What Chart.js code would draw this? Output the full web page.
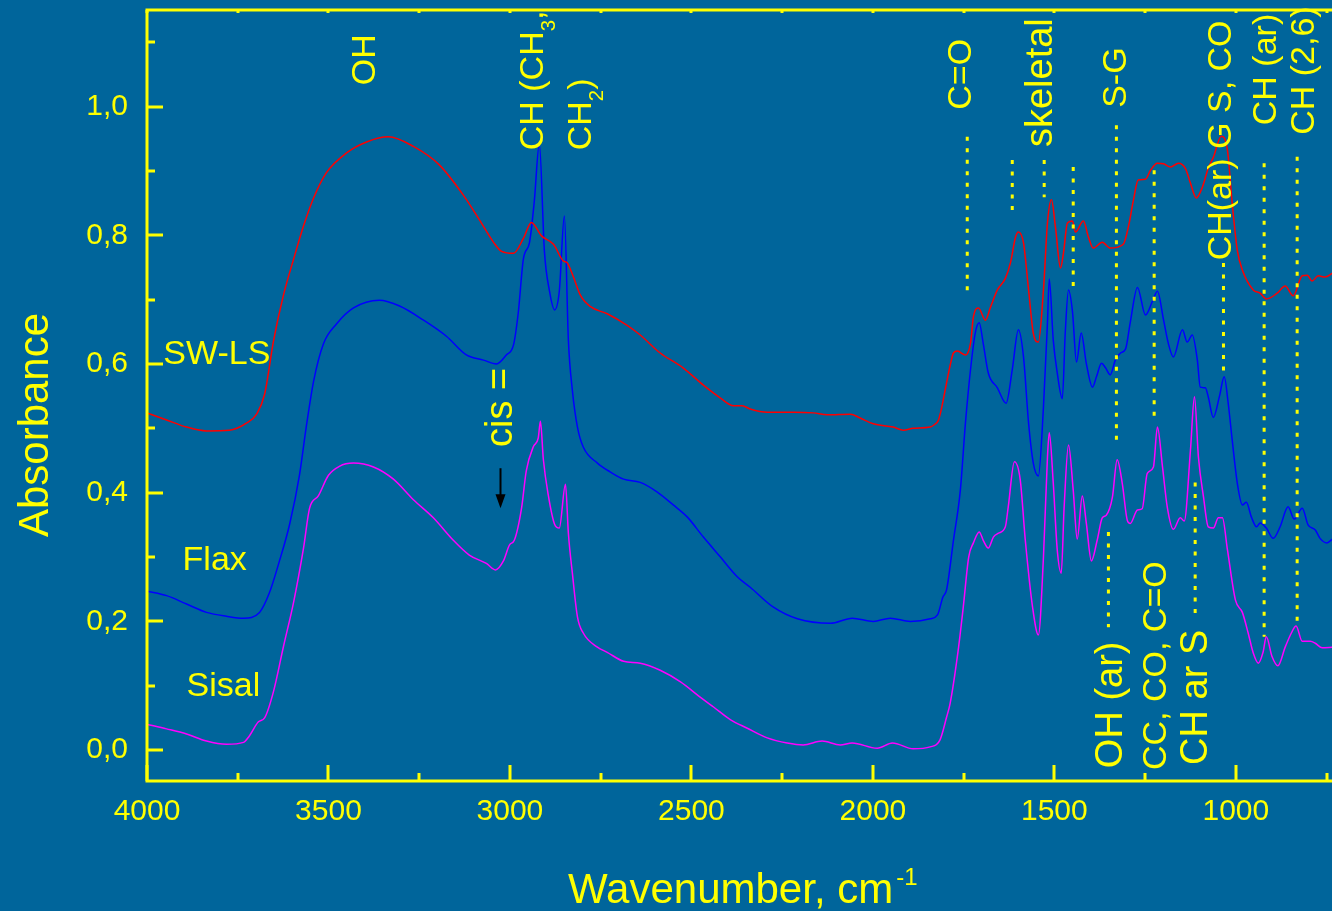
<!DOCTYPE html>
<html lang="en">
<head>
<meta charset="UTF-8">
<title>FTIR spectra: SW-LS, Flax, Sisal</title>
<script src="https://cdn.jsdelivr.net/npm/chart.js"></script>
<style>
    html, body {
        margin: 0;
        padding: 0;
        background: #00659b;
    }
    #wrap {
        width: 1332px;
        height: 911px;
    }
</style>
</head>
<body>
<div id="wrap"><canvas id="ftir"></canvas></div>
<script>
// spectra: [wavenumber cm-1, absorbance]
const swls = [
    [4000,0.524],[3946,0.513],[3891,0.502],[3836,0.496],[3773,0.497],[3726,0.508],[3698,0.522],[3676,0.553],
    [3651,0.637],[3624,0.707],[3596,0.763],[3569,0.814],[3541,0.858],[3506,0.897],[3450,0.928],[3395,0.945],
    [3335,0.953],[3266,0.938],[3194,0.909],[3128,0.862],[3084,0.824],[3045,0.789],[3023,0.775],[2990,0.772],
    [2963,0.795],[2941,0.820],[2913,0.799],[2880,0.786],[2853,0.760],[2842,0.757],[2825,0.735],[2806,0.707],
    [2778,0.689],[2732,0.678],[2677,0.660],[2641,0.645],[2586,0.617],[2523,0.594],[2467,0.567],[2420,0.547],
    [2384,0.535],[2360,0.535],[2338,0.530],[2291,0.525],[2219,0.525],[2164,0.524],[2126,0.521],[2062,0.522],
    [2035,0.516],[1999,0.507],[1944,0.502],[1916,0.497],[1889,0.500],[1842,0.502],[1830,0.506],[1820,0.512],
    [1812,0.528],[1801,0.559],[1787,0.598],[1778,0.617],[1767,0.620],[1745,0.614],[1731,0.632],[1723,0.673],
    [1709,0.687],[1690,0.668],[1676,0.688],[1657,0.715],[1635,0.733],[1621,0.757],[1607,0.797],[1599,0.805],
    [1585,0.788],[1571,0.715],[1558,0.648],[1544,0.634],[1530,0.715],[1519,0.819],[1508,0.855],[1497,0.813],
    [1483,0.749],[1475,0.772],[1464,0.819],[1450,0.822],[1442,0.805],[1420,0.822],[1406,0.797],[1393,0.780],
    [1368,0.789],[1346,0.780],[1310,0.786],[1296,0.813],[1282,0.855],[1269,0.886],[1249,0.887],[1235,0.901],
    [1216,0.912],[1199,0.911],[1180,0.906],[1158,0.912],[1139,0.904],[1125,0.881],[1109,0.858],[1092,0.875],
    [1076,0.904],[1062,0.921],[1040,0.954],[1023,0.932],[1010,0.850],[996,0.777],[982,0.746],[952,0.715],
    [933,0.710],[916,0.701],[886,0.710],[864,0.721],[842,0.706],[817,0.737],[803,0.738],[790,0.729],
    [773,0.737],[754,0.735],[734,0.741]
];

const flax = [
    [4000,0.247],[3946,0.240],[3891,0.227],[3836,0.214],[3781,0.208],[3734,0.205],[3690,0.214],[3663,0.244],
    [3635,0.294],[3607,0.351],[3580,0.427],[3561,0.503],[3541,0.573],[3514,0.631],[3478,0.662],[3431,0.687],
    [3360,0.699],[3304,0.690],[3238,0.668],[3175,0.643],[3120,0.614],[3073,0.606],[3037,0.600],[3010,0.614],
    [2990,0.630],[2977,0.680],[2963,0.763],[2946,0.789],[2933,0.852],[2919,0.942],[2905,0.775],[2891,0.713],
    [2877,0.684],[2864,0.713],[2850,0.830],[2839,0.637],[2828,0.559],[2814,0.502],[2798,0.471],[2759,0.446],
    [2723,0.432],[2687,0.421],[2641,0.416],[2594,0.401],[2550,0.381],[2511,0.362],[2467,0.331],[2420,0.300],
    [2373,0.269],[2338,0.253],[2274,0.222],[2208,0.204],[2117,0.197],[2057,0.205],[1999,0.200],[1952,0.205],
    [1897,0.200],[1842,0.204],[1822,0.210],[1807,0.238],[1797,0.249],[1778,0.326],[1759,0.404],[1745,0.508],
    [1731,0.591],[1718,0.648],[1707,0.664],[1696,0.632],[1682,0.586],[1657,0.563],[1633,0.539],[1616,0.591],
    [1599,0.653],[1585,0.611],[1571,0.508],[1558,0.446],[1544,0.426],[1530,0.533],[1519,0.664],[1514,0.732],
    [1503,0.637],[1492,0.586],[1478,0.546],[1470,0.648],[1461,0.715],[1450,0.681],[1439,0.603],[1426,0.648],
    [1412,0.601],[1395,0.564],[1384,0.580],[1370,0.601],[1359,0.594],[1346,0.583],[1332,0.606],[1318,0.617],
    [1304,0.623],[1291,0.664],[1271,0.719],[1249,0.676],[1230,0.697],[1216,0.713],[1199,0.668],[1186,0.632],
    [1172,0.611],[1147,0.653],[1134,0.634],[1120,0.645],[1106,0.606],[1098,0.564],[1084,0.563],[1076,0.549],
    [1062,0.517],[1045,0.550],[1032,0.580],[1021,0.539],[1010,0.482],[996,0.415],[982,0.381],[971,0.385],
    [957,0.362],[943,0.347],[933,0.353],[916,0.345],[897,0.329],[878,0.347],[856,0.378],[839,0.359],
    [817,0.376],[801,0.350],[781,0.342],[768,0.329],[749,0.322],[734,0.328]
];

const sisal = [
    [4000,0.040],[3946,0.033],[3891,0.025],[3836,0.014],[3781,0.009],[3734,0.012],[3718,0.022],[3693,0.044],
    [3676,0.050],[3651,0.092],[3624,0.161],[3596,0.230],[3569,0.313],[3552,0.376],[3528,0.395],[3500,0.427],
    [3470,0.441],[3431,0.446],[3376,0.440],[3321,0.421],[3266,0.389],[3211,0.361],[3156,0.326],[3112,0.303],
    [3065,0.290],[3040,0.280],[3018,0.294],[3001,0.319],[2988,0.326],[2968,0.376],[2955,0.434],[2935,0.472],
    [2922,0.485],[2916,0.511],[2908,0.452],[2894,0.395],[2877,0.351],[2864,0.345],[2847,0.413],[2839,0.337],
    [2828,0.275],[2814,0.207],[2798,0.182],[2759,0.160],[2732,0.152],[2687,0.138],[2641,0.135],[2586,0.124],
    [2530,0.106],[2475,0.082],[2439,0.067],[2392,0.047],[2346,0.034],[2291,0.019],[2236,0.011],[2192,0.008],
    [2140,0.014],[2090,0.008],[2057,0.011],[1988,0.003],[1946,0.011],[1889,0.002],[1842,0.005],[1815,0.016],
    [1797,0.051],[1787,0.073],[1765,0.155],[1751,0.222],[1736,0.300],[1723,0.322],[1707,0.339],[1696,0.326],
    [1682,0.314],[1668,0.331],[1654,0.337],[1635,0.347],[1627,0.378],[1610,0.448],[1594,0.420],[1580,0.326],
    [1560,0.222],[1544,0.179],[1530,0.300],[1519,0.455],[1514,0.493],[1503,0.415],[1492,0.311],[1481,0.275],
    [1473,0.378],[1461,0.474],[1448,0.404],[1437,0.328],[1423,0.395],[1412,0.353],[1398,0.294],[1382,0.326],
    [1368,0.361],[1357,0.365],[1340,0.393],[1327,0.451],[1313,0.415],[1299,0.357],[1291,0.352],[1271,0.373],
    [1258,0.375],[1244,0.430],[1227,0.440],[1216,0.502],[1202,0.440],[1189,0.378],[1172,0.343],[1153,0.361],
    [1142,0.356],[1125,0.466],[1114,0.549],[1103,0.455],[1089,0.393],[1076,0.347],[1062,0.345],[1048,0.361],
    [1037,0.361],[1023,0.311],[1001,0.233],[982,0.214],[966,0.182],[952,0.151],[938,0.135],[925,0.152],
    [916,0.176],[900,0.145],[884,0.131],[864,0.160],[847,0.182],[834,0.193],[817,0.169],[795,0.169],
    [781,0.166],[762,0.159],[734,0.160]
];

const xTickValues = [4000, 3500, 3000, 2500, 2000, 1500, 1000];
const yTickValues = [0, 0.2, 0.4, 0.6, 0.8, 1.0];

// dotted band markers: [wavenumber, absorbance from, absorbance to]
const bandLines = [
    [1740, 0.953, 0.710], [1616, 0.917, 0.839], [1528, 0.917, 0.859], [1448, 0.906, 0.720],
    [1329, 0.971, 0.477], [1225, 0.901, 0.513], [1034, 0.757, 0.586], [922, 0.912, 0.176],
    [831, 0.922, 0.191], [1351, 0.339, 0.191], [1112, 0.416, 0.213]
];

// band names, rotated; an inner array is a subscript
const bandNames = [
    { parts: ['OH'], wn: 3406, abs: 1.033, size: 34 },
    { parts: ['CH (CH', ['3'], ','], wn: 2944, abs: 0.932, size: 34 },
    { parts: ['CH', ['2'], ')'], wn: 2811, abs: 0.932, size: 34 },
    { parts: ['cis ='], wn: 3032, abs: 0.471, size: 38 },
    { parts: ['C=O'], wn: 1764, abs: 0.995, size: 34 },
    { parts: ['skeletal'], wn: 1544, abs: 0.937, size: 38 },
    { parts: ['S-G'], wn: 1337, abs: 0.998, size: 34 },
    { parts: ['CH(ar) G S, CO'], wn: 1048, abs: 0.761, size: 34 },
    { parts: ['CH (ar)'], wn: 924, abs: 0.971, size: 34 },
    { parts: ['CH (2,6)'], wn: 817, abs: 0.956, size: 34 },
    { parts: ['OH (ar)'], wn: 1351, abs: -0.028, size: 38 },
    { parts: ['CC, CO, C=O'], wn: 1227, abs: -0.031, size: 34 },
    { parts: ['CH ar S'], wn: 1117, abs: -0.023, size: 38 }
];

const sampleNames = [
    { text: 'SW-LS', wn: 3955, abs: 0.614 },
    { text: 'Flax', wn: 3902, abs: 0.295 },
    { text: 'Sisal', wn: 3891, abs: 0.099 }
];

const YELLOW = '#ffff00';
const FONT = '"Liberation Sans", Arial, sans-serif';

function toPoints(rows) {
    return rows.map(r => ({ x: r[0], y: r[1] }));
}

function drawParts(ctx, parts, size) {
    let x = 0;
    parts.forEach(p => {
        if (Array.isArray(p)) {
            ctx.font = (size * 0.6) + 'px ' + FONT;
            ctx.fillText(p[0], x, size * 0.36);
            x += ctx.measureText(p[0]).width;
        } else {
            ctx.font = size + 'px ' + FONT;
            ctx.fillText(p, x, 0);
            x += ctx.measureText(p).width;
        }
    });
}

const decorations = {
    id: 'decorations',
    afterDatasetsDraw(chart) {
        const { ctx, chartArea: a } = chart;
        const xs = chart.scales.x, ys = chart.scales.y;
        ctx.save();

        // frame
        ctx.strokeStyle = YELLOW;
        ctx.lineWidth = 3;
        ctx.beginPath();
        ctx.moveTo(a.right, a.top);
        ctx.lineTo(a.left, a.top);
        ctx.lineTo(a.left, a.bottom);
        ctx.lineTo(a.right, a.bottom);
        ctx.stroke();

        // inward ticks
        ctx.beginPath();
        for (let w = 4000; w >= xs.min; w -= 250) {
            const px = Math.round(xs.getPixelForValue(w));
            const len = w % 500 === 0 ? 16 : 8;
            ctx.moveTo(px, a.bottom);
            ctx.lineTo(px, a.bottom - len);
            ctx.moveTo(px, a.top);
            ctx.lineTo(px, a.top + 3);
        }
        for (let i = 0; i <= 11; i++) {
            const py = Math.round(ys.getPixelForValue(i / 10));
            const len = i % 2 === 0 ? 16 : 8;
            ctx.moveTo(a.left, py);
            ctx.lineTo(a.left + len, py);
        }
        ctx.stroke();

        // band names
        ctx.fillStyle = YELLOW;
        ctx.textAlign = 'left';
        ctx.textBaseline = 'alphabetic';
        bandNames.forEach(b => {
            const px = xs.getPixelForValue(b.wn);
            const py = ys.getPixelForValue(b.abs);
            ctx.save();
            ctx.translate(px + b.size * 0.36, py);
            ctx.rotate(-Math.PI / 2);
            drawParts(ctx, b.parts, b.size);
            ctx.restore();
        });

        // sample names
        ctx.font = '34px ' + FONT;
        ctx.textBaseline = 'middle';
        sampleNames.forEach(s => {
            ctx.fillText(s.text, xs.getPixelForValue(s.wn), ys.getPixelForValue(s.abs));
        });

        // arrow to the cis = band
        const ax = xs.getPixelForValue(3026);
        const ay1 = ys.getPixelForValue(0.438), ay2 = ys.getPixelForValue(0.376);
        ctx.strokeStyle = '#000000';
        ctx.fillStyle = '#000000';
        ctx.lineWidth = 2;
        ctx.beginPath();
        ctx.moveTo(ax, ay1);
        ctx.lineTo(ax, ay2 - 12);
        ctx.stroke();
        ctx.beginPath();
        ctx.moveTo(ax - 5, ay2 - 14);
        ctx.lineTo(ax + 5, ay2 - 14);
        ctx.lineTo(ax, ay2);
        ctx.closePath();
        ctx.fill();

        // axis titles
        ctx.fillStyle = YELLOW;
        ctx.save();
        ctx.translate(48, 425);
        ctx.rotate(-Math.PI / 2);
        ctx.textAlign = 'center';
        ctx.textBaseline = 'alphabetic';
        ctx.font = '42px ' + FONT;
        ctx.fillText('Absorbance', 0, 0);
        ctx.restore();

        ctx.textAlign = 'left';
        ctx.textBaseline = 'alphabetic';
        ctx.font = '42px ' + FONT;
        ctx.fillText('Wavenumber, cm', 568, 903);
        const tw = ctx.measureText('Wavenumber, cm').width;
        ctx.font = '24px ' + FONT;
        ctx.fillText('-1', 568 + tw + 3, 885);

        ctx.restore();
    }
};

const lineSets = bandLines.map(b => ({
    data: [{ x: b[0], y: b[1] }, { x: b[0], y: b[2] }],
    borderColor: YELLOW,
    borderWidth: 3,
    borderDash: [4, 7.5],
    pointRadius: 0,
    order: 0
}));

const spectrum = (rows, color) => ({
    data: toPoints(rows),
    borderColor: color,
    borderWidth: 1.5,
    pointRadius: 0,
    cubicInterpolationMode: 'monotone',
    order: 1
});

new Chart(document.getElementById('ftir'), {
    type: 'line',
    data: {
        datasets: [
            spectrum(swls, '#ff0000'),
            spectrum(flax, '#0000ff'),
            spectrum(sisal, '#ff00ff'),
            ...lineSets
        ]
    },
    options: {
        responsive: true,
        maintainAspectRatio: false,
        animation: false,
        layout: { padding: { top: 10, right: 0, left: 0, bottom: 0 } },
        plugins: {
            legend: { display: false },
            tooltip: { enabled: false }
        },
        scales: {
            x: {
                type: 'linear',
                reverse: true,
                min: 735,
                max: 4000,
                grid: { display: false, drawTicks: false },
                border: { display: false },
                ticks: {
                    autoSkip: false,
                    maxRotation: 0,
                    padding: 13,
                    color: YELLOW,
                    font: { family: FONT, size: 30 },
                    callback: v => String(v)
                },
                afterBuildTicks: s => { s.ticks = xTickValues.map(value => ({ value })); },
                afterFit: s => { s.height = 130; s.paddingLeft = 0; s.paddingRight = 0; }
            },
            y: {
                min: -0.048,
                max: 1.15,
                grid: { display: false, drawTicks: false },
                border: { display: false },
                ticks: {
                    autoSkip: false,
                    padding: 19,
                    color: YELLOW,
                    font: { family: FONT, size: 30 },
                    callback: v => v.toFixed(1).replace('.', ',')
                },
                afterBuildTicks: s => { s.ticks = yTickValues.map(value => ({ value })); },
                afterFit: s => { s.width = 147; s.paddingTop = 0; s.paddingBottom = 0; }
            }
        }
    },
    plugins: [decorations]
});
</script>
</body>
</html>
